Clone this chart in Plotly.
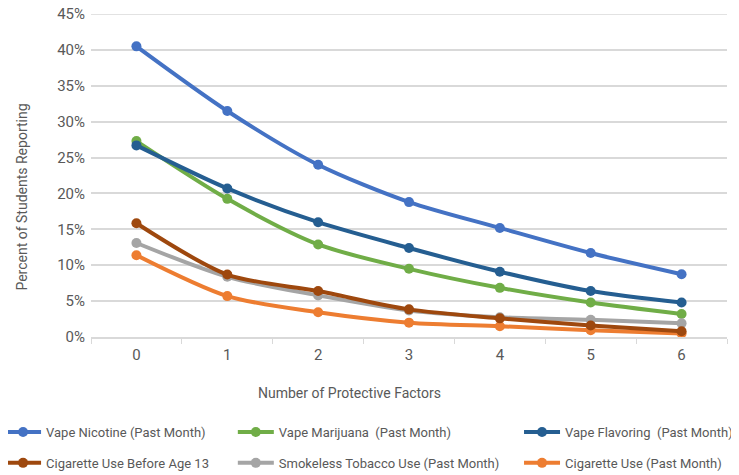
import plotly.graph_objects as go

factors = ["0", "1", "2", "3", "4", "5", "6"]
vape_nicotine = [40.5, 31.5, 24.0, 18.8, 15.2, 11.7, 8.75]
vape_marijuana = [27.3, 19.25, 12.9, 9.5, 6.85, 4.8, 3.2]
vape_flavoring = [26.7, 20.7, 16.0, 12.4, 9.1, 6.4, 4.8]
cig_before_13 = [15.85, 8.7, 6.4, 3.85, 2.6, 1.6, 0.8]
smokeless = [13.1, 8.4, 5.8, 3.7, 2.75, 2.4, 1.9]
cig_use = [11.4, 5.7, 3.45, 2.0, 1.5, 0.95, 0.5]
y_max = 45

FONT = "Roboto, sans-serif"
TXT = "#595959"
GRID = "#D9D9D9"

series = [
    ("Vape Nicotine (Past Month)", vape_nicotine, "#4472C4", "legend"),
    ("Vape Marijuana  (Past Month)", vape_marijuana, "#70AD47", "legend2"),
    ("Vape Flavoring  (Past Month)", vape_flavoring, "#255E91", "legend3"),
    ("Smokeless Tobacco Use (Past Month)", smokeless, "#A5A5A5", "legend2"),
    ("Cigarette Use (Past Month)", cig_use, "#ED7D31", "legend3"),
    ("Cigarette Use Before Age 13", cig_before_13, "#9E480E", "legend"),
]
rank = {"Vape Nicotine (Past Month)": 1, "Vape Marijuana  (Past Month)": 1,
        "Vape Flavoring  (Past Month)": 1, "Cigarette Use Before Age 13": 2,
        "Smokeless Tobacco Use (Past Month)": 2, "Cigarette Use (Past Month)": 2}

fig = go.Figure()
for name, vals, color, lg in series:
    fig.add_trace(go.Scatter(
        x=factors, y=vals, name=name, mode="lines+markers",
        line=dict(color=color, width=4, shape="spline", smoothing=0.8),
        marker=dict(color=color, size=10),
        legend=lg, legendrank=rank[name], legendgroup=name,
    ))

leg_common = dict(orientation="v", yanchor="top", y=-0.2477, xanchor="left",
                  font=dict(family=FONT, size=13, color=TXT),
                  bgcolor="rgba(0,0,0,0)", tracegroupgap=11, itemwidth=36)

fig.update_layout(
    width=731, height=467,
    margin=dict(l=83, r=12, t=6, b=138, autoexpand=False),
    paper_bgcolor="white", plot_bgcolor="white",
    font=dict(family=FONT, color=TXT),
    showlegend=True,
    legend=dict(x=-0.143, **leg_common),
    legend2=dict(x=0.223, **leg_common),
    legend3=dict(x=0.673, **leg_common),
    xaxis=dict(
        type="category", range=[-0.5, 6.5],
        tickfont=dict(size=15, color=TXT),
        tickson="boundaries", ticks="outside", ticklen=5, tickcolor=GRID,
        showline=True, linecolor=GRID, linewidth=1.5, showgrid=False,
        ticklabelstandoff=3,
    ),
    yaxis=dict(
        range=[0, y_max + 0.01], tick0=0, dtick=5, ticksuffix="%",
        tickfont=dict(size=15, color=TXT), ticklabeloverflow="allow",
        showgrid=True, gridcolor=GRID, gridwidth=1.5,
        zeroline=False, showline=False, ticks="", ticklabelstandoff=5,
    ),
    shapes=[
        dict(type="line", xref="paper", x0=0, x1=1, yref="y", y0=y_max, y1=y_max,
             line=dict(color=GRID, width=1.5), layer="below"),
    ],
    annotations=[
        dict(text="Number of Protective Factors", xref="paper", yref="paper",
             x=0.407, y=-0.173, xanchor="center", yanchor="middle", showarrow=False,
             font=dict(family=FONT, size=14, color=TXT)),
        dict(text="Percent of Students Reporting", xref="paper", yref="paper",
             x=-0.1085, y=0.4347, xanchor="center", yanchor="middle", showarrow=False,
             textangle=-90, font=dict(family=FONT, size=14, color=TXT)),
    ],
)

fig.write_html("out.html")
